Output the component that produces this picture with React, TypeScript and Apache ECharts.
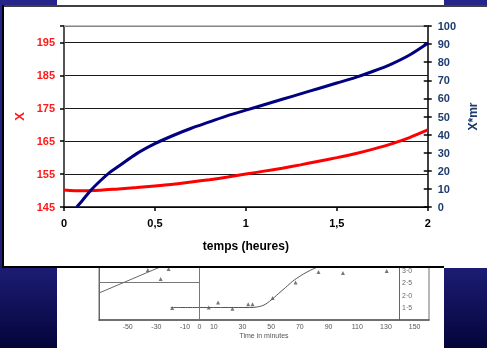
import React, { useEffect, useRef } from "react";
import * as echarts from "echarts";

// ---- main chart data ----
const redTimes = [0, 0.1, 0.2, 0.3, 0.4, 0.5, 0.6, 0.7, 0.8, 0.9, 1.0, 1.1, 1.2, 1.3, 1.4, 1.5, 1.6, 1.7, 1.8, 1.9, 2.0];
const redX = [150.2, 149.9, 150.1, 150.5, 150.9, 151.4, 151.9, 152.6, 153.3, 154.1, 155.0, 155.9, 156.8, 157.8, 158.9, 160.0, 161.2, 162.6, 164.2, 166.1, 168.4];
const blueTimes = [0.07, 0.1, 0.15, 0.2, 0.25, 0.3, 0.4, 0.5, 0.6, 0.7, 0.8, 0.9, 1.0, 1.1, 1.2, 1.3, 1.4, 1.5, 1.6, 1.7, 1.8, 1.9, 2.0];
const blueXmr = [0, 3.5, 9.5, 14.5, 19, 22.5, 29.5, 35, 39.5, 43.5, 47, 50.5, 53.5, 56.5, 59.5, 62.5, 65.5, 68.5, 71.5, 75, 79, 84, 90.5];
const leftTicks = [145, 155, 165, 175, 185, 195];
const leftMin = 145;
const leftMax = 200;
const leftStep = 10;

// ---- scanned figure (background) data ----
const scanXTicks = [-50, -30, -10, 0, 10, 30, 50, 70, 90, 110, 130, 150];
const scanYTicks = [1.5, 2.0, 2.5, 3.0];
const scanCurveMin = [-20, 0, 20, 35, 40, 45, 50, 55, 60, 65, 70, 75, 80, 85, 90];
const scanCurveVal = [1.5, 1.5, 1.5, 1.5, 1.52, 1.6, 1.8, 2.05, 2.3, 2.55, 2.75, 2.92, 3.06, 3.18, 3.3];
const scanPtsMin = [-19, 6.5, 13, 23, 34, 37, 51, 67, 83, 100, 130.5, -27, -21.5, -36];
const scanPtsVal = [1.48, 1.5, 1.7, 1.45, 1.63, 1.63, 1.88, 2.5, 2.92, 2.88, 2.96, 2.64, 3.04, 3.0];
const scanRefMin = [-70, 0];
const scanRefVal = [2.5, 2.5];
const scanRiseMin = [-70, -20];
const scanRiseVal = [2.08, 3.3];

const FONT = "Liberation Sans, Arial, sans-serif";

function Background() {
  const ref = useRef<HTMLDivElement>(null);
  useEffect(() => {
    const chart = echarts.init(ref.current!, null, { renderer: "svg" });
    const gray = "#666";
    chart.setOption({
      animation: false,
      graphic: [
        {
          type: "rect",
          z: -100,
          shape: { x: 0, y: 0, width: 487, height: 348 },
          style: {
            fill: new echarts.graphic.LinearGradient(0, 0, 0, 1, [
              { offset: 0, color: "#25258c" },
              { offset: 0.75, color: "#1e1e7a" },
              { offset: 1, color: "#04043a" },
            ]),
          },
        },
        {
          type: "rect",
          z: -99,
          shape: { x: 57, y: 0, width: 387, height: 348 },
          style: { fill: "#ffffff" },
        },
      ],
      grid: { left: 99, right: 58, top: 250, bottom: 28, show: true, borderColor: "#888", borderWidth: 1.2 },
      xAxis: {
        type: "value",
        min: -70,
        max: 160,
        name: "Time in minutes",
        nameLocation: "middle",
        nameGap: 12,
        nameTextStyle: { fontSize: 7, color: "#555", fontFamily: FONT },
        axisLine: { onZero: false, lineStyle: { color: "#555", width: 1.5 } },
        axisTick: { show: false },
        axisLabel: { customValues: scanXTicks, fontSize: 7, color: "#555", margin: 3, fontFamily: FONT },
        splitLine: { show: false },
      },
      yAxis: [
        {
          type: "value",
          min: 1.0,
          max: 3.8,
          axisLine: { show: true, onZero: false, lineStyle: { color: gray } },
          axisTick: { show: false },
          axisLabel: { show: false },
          splitLine: { show: false },
        },
        {
          type: "value",
          position: "right",
          offset: -30,
          min: 1.0,
          max: 3.8,
          axisLine: { show: true, onZero: false, lineStyle: { color: gray } },
          axisTick: { show: false },
          axisLabel: {
            customValues: scanYTicks,
            fontSize: 7,
            color: "#666",
            margin: 3,
            fontFamily: FONT,
            formatter: (v: number) => v.toFixed(1).replace(".", "·"),
          },
          splitLine: { show: false },
        },
      ],
      series: [
        {
          type: "line",
          data: scanCurveMin.map((m, i) => [m, scanCurveVal[i]]),
          smooth: 0.4,
          symbol: "none",
          lineStyle: { color: "#555", width: 1 },
          markLine: {
            silent: true,
            symbol: "none",
            label: { show: false },
            lineStyle: { color: "#777", width: 1, type: "solid" },
            data: [{ xAxis: 0 }],
          },
        },
        {
          type: "line",
          data: scanRefMin.map((m, i) => [m, scanRefVal[i]]),
          symbol: "none",
          lineStyle: { color: "#777", width: 1 },
        },
        {
          type: "line",
          data: scanRiseMin.map((m, i) => [m, scanRiseVal[i]]),
          symbol: "none",
          lineStyle: { color: "#666", width: 1 },
        },
        {
          type: "scatter",
          data: scanPtsMin.map((m, i) => [m, scanPtsVal[i]]),
          symbol: "triangle",
          symbolSize: 4,
          itemStyle: { color: "#555" },
        },
      ],
    });
    return () => chart.dispose();
  }, []);
  return <div ref={ref} style={{ position: "absolute", left: 0, top: 0, width: 487, height: 348 }} />;
}

function MainChart() {
  const ref = useRef<HTMLDivElement>(null);
  useEffect(() => {
    const chart = echarts.init(ref.current!, null, { renderer: "svg" });
    const rightColor = "#1e3c6e";
    chart.setOption({
      animation: false,
      backgroundColor: "#ffffff",
      textStyle: { fontFamily: FONT },
      graphic: [
        { type: "line", z: 100, shape: { x1: 1, y1: 0, x2: 1, y2: 263 }, style: { stroke: "#000", lineWidth: 2 } },
        { type: "line", z: 100, shape: { x1: 0, y1: 1, x2: 485, y2: 1 }, style: { stroke: "#000", lineWidth: 1.5 } },
        { type: "line", z: 100, shape: { x1: 0, y1: 262, x2: 442, y2: 262 }, style: { stroke: "#000", lineWidth: 2 } },
      ],
      grid: { left: 62, right: 55, top: 21, bottom: 61 },
      xAxis: [
        {
          type: "value",
          position: "bottom",
          min: 0,
          max: 2,
          interval: 0.5,
          name: "temps (heures)",
          nameLocation: "middle",
          nameGap: 33,
          nameTextStyle: { fontSize: 12, fontWeight: "bold", color: "#000", fontFamily: FONT },
          axisLine: { onZero: false, lineStyle: { color: "#000", width: 1.5 } },
          axisTick: { length: 4, lineStyle: { color: "#000", width: 1.5 } },
          axisLabel: {
            fontSize: 11,
            fontWeight: "bold",
            color: "#000",
            margin: 10,
            fontFamily: FONT,
            formatter: (v: number) => String(v).replace(".", ","),
          },
          splitLine: { show: false },
        },
        {
          type: "value",
          position: "top",
          min: 0,
          max: 2,
          axisLine: { onZero: false, lineStyle: { color: "#aaa", width: 1.5 } },
          axisTick: { show: false },
          axisLabel: { show: false },
          splitLine: { show: false },
        },
      ],
      yAxis: [
        {
          type: "value",
          position: "left",
          min: leftMin,
          max: leftMax,
          name: "X",
          nameLocation: "middle",
          nameGap: 33,
          nameTextStyle: { fontSize: 13, fontWeight: "bold", color: "#ff1a1a", fontFamily: FONT },
          axisLine: { show: true, onZero: false, lineStyle: { color: "#555", width: 2 } },
          axisTick: { show: false },
          axisLabel: { customValues: leftTicks, fontSize: 11, fontWeight: "bold", color: "#ff1a1a", margin: 9, fontFamily: FONT },
          splitLine: { show: false },
        },
        {
          type: "value",
          position: "right",
          min: 0,
          max: 100,
          interval: 10,
          name: "X*mr",
          nameLocation: "middle",
          nameGap: 34,
          nameTextStyle: { fontSize: 12, fontWeight: "bold", color: rightColor, fontFamily: FONT },
          axisLine: { show: true, onZero: false, lineStyle: { color: "#000", width: 1.5 } },
          axisTick: { show: true, length: 4, lineStyle: { color: "#000", width: 1.5 } },
          axisLabel: { fontSize: 11, fontWeight: "bold", color: rightColor, margin: 10, fontFamily: FONT },
          splitLine: { show: false },
        },
        {
          // inward half of the right axis' crossing ticks
          type: "value",
          position: "right",
          min: 0,
          max: 100,
          interval: 10,
          axisLine: { show: false, onZero: false },
          axisTick: { show: true, inside: true, length: 4, lineStyle: { color: "#000", width: 1.5 } },
          axisLabel: { show: false },
          splitLine: { show: false },
        },
        {
          // left axis tick marks and gridlines at 145, 155, ... (offset scale: 0 = 145)
          type: "value",
          position: "left",
          min: 0,
          max: leftMax - leftMin,
          interval: leftStep,
          axisLine: { show: false, onZero: false },
          axisTick: { show: true, length: 4, lineStyle: { color: "#000", width: 1.5 } },
          axisLabel: { show: false },
          splitLine: { show: true, lineStyle: { color: "#1a1a1a", width: 1 } },
        },
      ],
      series: [
        {
          name: "X",
          type: "line",
          xAxisIndex: 0,
          yAxisIndex: 0,
          data: redTimes.map((t, i) => [t, redX[i]]),
          smooth: 0.3,
          symbol: "none",
          lineStyle: { color: "#ff0000", width: 3 },
        },
        {
          name: "X*mr",
          type: "line",
          xAxisIndex: 0,
          yAxisIndex: 1,
          data: blueTimes.map((t, i) => [t, blueXmr[i]]),
          smooth: 0.3,
          symbol: "none",
          lineStyle: { color: "#000080", width: 3 },
        },
      ],
    });
    return () => chart.dispose();
  }, []);
  return <div ref={ref} style={{ position: "absolute", left: 2, top: 5, width: 485, height: 263 }} />;
}

export default function App() {
  return (
    <div style={{ position: "fixed", left: 0, top: 0, width: 487, height: 348, overflow: "hidden" }}>
      <Background />
      <MainChart />
    </div>
  );
}
